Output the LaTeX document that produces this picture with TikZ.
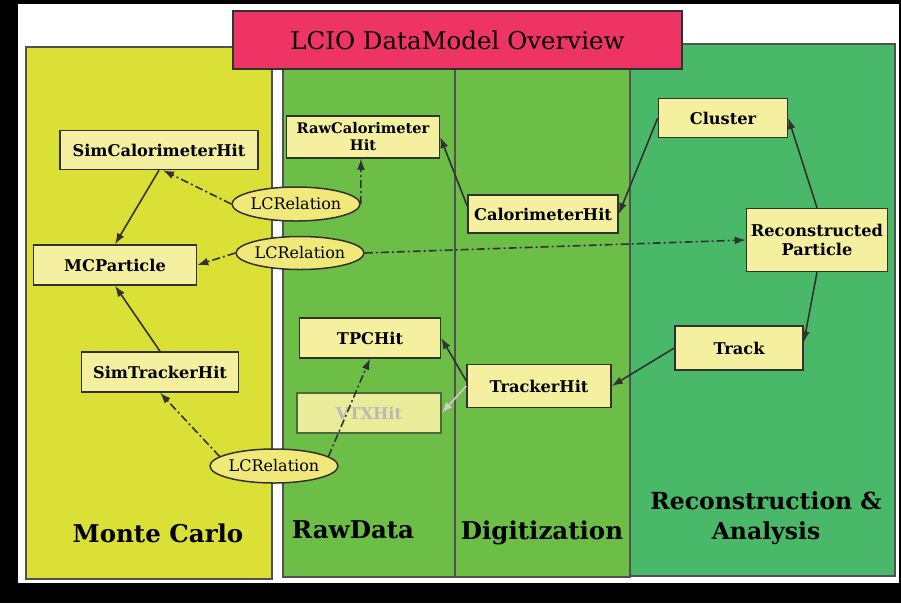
\documentclass[tikz,border=0pt]{standalone}
\usepackage{fontspec}
\setmainfont{DejaVu Serif}
\usepackage{tikz}
\usetikzlibrary{shapes,arrows,arrows.meta,positioning,calc}
\usepackage{xcolor}
\definecolor{mcyellow}{RGB}{219,224,54}
\definecolor{rawgreen}{RGB}{108,190,70}
\definecolor{recgreen}{RGB}{73,184,104}
\definecolor{titlered}{RGB}{237,52,100}
\definecolor{hitfill}{RGB}{245,240,160}
\definecolor{relfill}{RGB}{240,232,120}
\definecolor{edgegray}{RGB}{50,50,50}

\tikzset{
  hit/.style={draw=edgegray, line width=1.5pt, fill=hitfill, inner sep=1pt,
    font=\fontsize{16.2}{19}\selectfont\bfseries, align=center},
  rel/.style={ellipse, draw=edgegray, line width=1.5pt, fill=relfill,
    minimum width=102pt, minimum height=34pt, inner sep=0pt,
    font=\fontsize{16}{18}\selectfont},
  panel/.style={draw=edgegray!85, line width=1.5pt},
  section/.style={font=\fontsize{24.5}{30}\selectfont\bfseries, align=center},
  link/.style={->, draw=edgegray, line width=1.6pt},
  relink/.style={link, dash pattern=on 8pt off 3pt on 2pt off 3pt},
}

\begin{document}
\begin{tikzpicture}[x=1pt, y=-1pt, >={Latex[length=11pt,width=8pt]}]
            % frame
            \fill[black] (0,0) rectangle (901,603);
            \fill[white] (18,4) rectangle (899,583);
            % panels
            \draw[panel, fill=mcyellow] (26,47) rectangle (272,579);
            \draw[panel, fill=rawgreen] (283,60) rectangle (455,577);
            \draw[panel, fill=rawgreen] (455,60) rectangle (630,577);
            \draw[panel, fill=recgreen] (630,44) rectangle (895,576);
            \node[draw=edgegray, line width=1.5pt, fill=titlered, minimum width=449pt,
              minimum height=58pt, font=\fontsize{24.5}{28}\selectfont] (title) at (457.5,40) {LCIO DataModel Overview};
            % section names
            \node[section] (mclabel) at (158,533) {Monte Carlo};
            \node[section] (rawlabel) at (353,530) {RawData};
            \node[section] (digilabel) at (542,533) {Digitization};
            \node[section, font=\fontsize{23.5}{30}\selectfont\bfseries] (reclabel) at (766,518) {Reconstruction \&\\Analysis};
            % monte carlo
            \node[hit, minimum width=198pt, minimum height=39pt] (simcal) at (159,150) {SimCalorimeterHit};
            \node[hit, minimum width=163pt, minimum height=40pt] (mcp) at (115,265) {MCParticle};
            \node[hit, minimum width=157pt, minimum height=40pt] (simtrk) at (160,372) {SimTrackerHit};
            % raw data
            \node[hit, minimum width=153pt, minimum height=42pt, font=\fontsize{14.6}{17}\selectfont\bfseries] (rawcal) at (363,137) {RawCalorimeter\\Hit};
            \node[hit, minimum width=141pt, minimum height=40pt] (tpc) at (370,338) {TPCHit};
            \node[hit, minimum width=144pt, minimum height=40pt, fill=hitfill!92!rawgreen,
              draw=edgegray!60!rawgreen, text=gray!55] (vtx) at (369,413) {VTXHit};
            % digitization
            \node[hit, minimum width=150pt, minimum height=38pt] (calhit) at (543,214) {CalorimeterHit};
            \node[hit, minimum width=144pt, minimum height=43pt] (trkhit) at (539,386) {TrackerHit};
            % reconstruction
            \node[hit, minimum width=129pt, minimum height=39pt] (cluster) at (723,118) {Cluster};
            \node[hit, minimum width=141pt, minimum height=63pt, font=\fontsize{16.2}{19}\selectfont\bfseries] (reco) at (817,240) {Reconstructed\\Particle};
            \node[hit, minimum width=128pt, minimum height=44pt] (track) at (739,348) {Track};
            % relations
            \node[rel] (relcal) at (296,204) {LCRelation};
            \node[rel, minimum width=103pt, minimum height=33pt] (relmc) at (300,253) {LCRelation};
            \node[rel] (reltrk) at (274,466) {LCRelation};
            % links
            \draw[link] (simcal.south) -- (mcp.north);
            \draw[link] (simtrk.north) -- (mcp.south);
            \draw[link] (calhit.174) -- (rawcal.east);
            \draw[link] (cluster.west) -- (calhit.east);
            \draw[link] (reco.north) -- (cluster.east);
            \draw[link] (reco.south) -- (track.5);
            \draw[link] (track.west) -- (trkhit.east);
            \draw[link] (trkhit.176) -- (tpc.east);
            \draw[link, draw=gray!45!violet!30!white] (trkhit.west) -- (vtx.east);
            \draw[relink] (relcal.west) -- ([xshift=4pt]simcal.south);
            \draw[relink] (relcal.east) -- ([xshift=-2pt]rawcal.south);
            \draw[relink] (relmc.west) -- (mcp.east);
            \draw[relink] (relmc.east) -- (reco.west);
            \draw[relink] (reltrk.170) -- (simtrk.south);
            \draw[relink] (reltrk.10) -- (tpc.south);
        \end{tikzpicture}
\end{document}
